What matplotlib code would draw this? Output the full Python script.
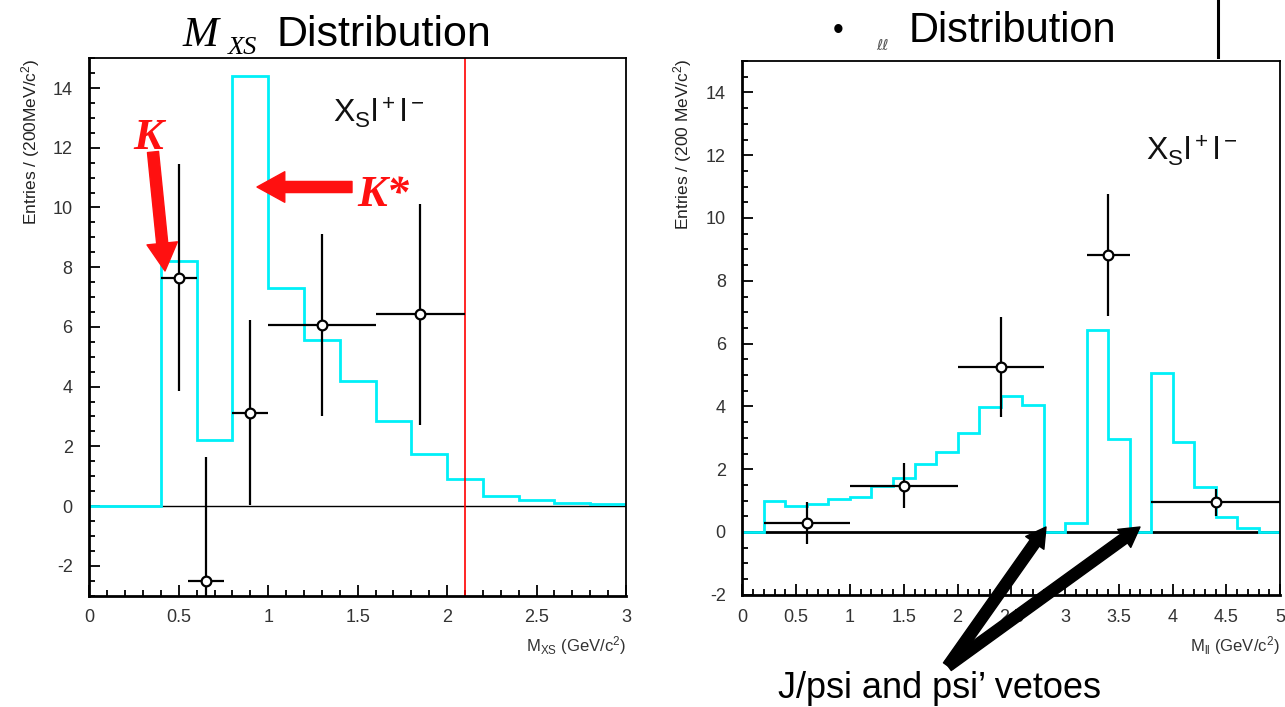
import matplotlib
matplotlib.use("Agg")
import matplotlib.pyplot as plt
from matplotlib.ticker import MultipleLocator, FuncFormatter
from matplotlib.patches import FancyArrowPatch

plt.rcParams["font.family"] = ["Liberation Sans", "DejaVu Sans"]
plt.rcParams["mathtext.fontset"] = "custom"
plt.rcParams["mathtext.rm"] = "Liberation Sans"
plt.rcParams["mathtext.it"] = "Liberation Sans:italic"
plt.rcParams["axes.unicode_minus"] = False

# ---- M_Xs distribution ----
mxs_edges = [0.0, 0.2, 0.4, 0.6, 0.8, 1.0, 1.2, 1.4, 1.6, 1.8, 2.0, 2.2, 2.4, 2.6, 2.8, 3.0]
mxs_mc = [0.0, 0.0, 8.2, 2.2, 14.4, 7.3, 5.55, 4.2, 2.86, 1.74, 0.89, 0.34, 0.19, 0.10, 0.06]
mxs_x = [0.5, 0.65, 0.9, 1.3, 1.85]
mxs_xerr = [0.1, 0.1, 0.1, 0.3, 0.25]
mxs_y = [7.65, -2.5, 3.13, 6.07, 6.42]
mxs_yerr = [3.8, 4.15, 3.1, 3.05, 3.7]
mxs_cut = 2.1

# ---- M_ll distribution ----
mll_edges = [0.0, 0.2, 0.4, 0.6, 0.8, 1.0, 1.2, 1.4, 1.6, 1.8, 2.0, 2.2, 2.4, 2.6,
             2.8, 3.0, 3.2, 3.4, 3.6, 3.8, 4.0, 4.2, 4.4, 4.6, 4.8, 5.0]
mll_mc = [0.0, 1.0, 0.83, 0.88, 1.05, 1.12, 1.47, 1.72, 2.17, 2.56, 3.16, 3.99, 4.33,
          4.04, 0.0, 0.3, 6.43, 2.95, 0.0, 5.07, 2.88, 1.44, 0.49, 0.14, 0.0]
mll_x = [0.6, 1.5, 2.4, 3.4, 4.4]
mll_xerr = [0.4, 0.5, 0.4, 0.2, 0.6]
mll_y = [0.28, 1.47, 5.25, 8.82, 0.95]
mll_yerr = [0.67, 0.72, 1.6, 1.95, 0.43]

W, H = 1285, 707
fig = plt.figure(figsize=(W / 100, H / 100), dpi=100)
fig.patch.set_facecolor("white")


def fx(x):
    return x / W


def fy(y):
    return 1 - y / H


def px(x, y):
    return (x, H - y)


fmt = FuncFormatter(lambda v, p: f"{v:g}")
CYAN = "#00f0f8"


def style_axes(ax, xmax, ymin, zero_lw):
    ax.set_xlim(0, xmax)
    ax.set_ylim(ymin, 15)
    ax.xaxis.set_major_locator(MultipleLocator(0.5))
    ax.xaxis.set_minor_locator(MultipleLocator(0.1))
    ax.yaxis.set_major_locator(MultipleLocator(2))
    ax.yaxis.set_minor_locator(MultipleLocator(0.5))
    ax.xaxis.set_major_formatter(fmt)
    ax.yaxis.set_major_formatter(fmt)
    ax.tick_params(which="both", direction="in", top=False, right=False,
                   labelsize=13, labelcolor="#333333", width=1.3)
    ax.tick_params(which="major", length=8)
    ax.tick_params(which="minor", length=4)
    ax.tick_params(axis="x", pad=10)
    ax.tick_params(axis="y", pad=12)
    for s in ("left", "bottom"):
        ax.spines[s].set_linewidth(2)
    for s in ("top", "right"):
        ax.spines[s].set_linewidth(1.3)
    ax.axhline(0, color="black", lw=zero_lw, zorder=1)


# Left panel
ax1 = fig.add_axes([fx(89.4), fy(595.6), fx(626 - 89.4), (595.6 - 58.2) / H])
ax1.stairs(mxs_mc, mxs_edges, color=CYAN, lw=2, baseline=0, zorder=2)
ax1.axvline(mxs_cut, color="red", lw=1.2, zorder=2)
ax1.errorbar(mxs_x, mxs_y, xerr=mxs_xerr, yerr=mxs_yerr, fmt="o", ms=7,
             mfc="white", mec="black", mew=1.6, ecolor="black", elinewidth=1.6,
             capsize=0, zorder=4)
style_axes(ax1, 3, -3, 1.0)

# Right panel
ax2 = fig.add_axes([fx(742.5), fy(594.8), fx(1280 - 742.5), (594.8 - 61) / H])
ax2.stairs(mll_mc, mll_edges, color=CYAN, lw=2, baseline=0, zorder=2)
ax2.errorbar(mll_x, mll_y, xerr=mll_xerr, yerr=mll_yerr, fmt="o", ms=7,
             mfc="white", mec="black", mew=1.6, ecolor="black", elinewidth=1.6,
             capsize=0, zorder=4)
style_axes(ax2, 5, -2, 2.0)

# Axis titles
fig.text(fx(626), fy(646), r"$\mathregular{M_{XS}}$ (GeV/$\mathregular{c^2}$)",
         ha="right", va="center", fontsize=12, color="#333333")
fig.text(fx(1280), fy(646), r"$\mathregular{M_{ll}}$ (GeV/$\mathregular{c^2}$)",
         ha="right", va="center", fontsize=12, color="#333333")
fig.text(fx(31), fy(58), r"Entries / (200MeV/$\mathregular{c^2}$)", rotation=90,
         ha="center", va="top", fontsize=12.5, color="#222222")
fig.text(fx(683), fy(58), r"Entries / (200 MeV/$\mathregular{c^2}$)", rotation=90,
         ha="center", va="top", fontsize=12.5, color="#222222")

# Channel labels inside the frames
channel = r"$\mathregular{X_S l^+ l^-}$"
fig.text(fx(333), fy(123), channel, ha="left", va="baseline", fontsize=23,
         color="#111111")
fig.text(fx(1146), fy(160), channel, ha="left", va="baseline", fontsize=23,
         color="#111111")

# Titles
fig.text(fx(182), fy(46), "M", family="Liberation Serif", style="italic",
         fontsize=31, ha="left", va="baseline")
fig.text(fx(228), fy(54), "XS", family="Liberation Serif", style="italic",
         fontsize=19, ha="left", va="baseline")
fig.text(fx(277), fy(46), "Distribution", fontsize=31, ha="left", va="baseline")

fig.text(fx(838), fy(31), "\u2022", fontsize=22, ha="center", va="center")
fig.text(fx(876), fy(50), "\u2113\u2113", family=["DejaVu Sans", "Noto Sans"],
         style="italic", fontsize=11, ha="left", va="baseline", color="#555555")
fig.text(fx(909), fy(42), "Distribution", fontsize=30, ha="left", va="baseline")

fig.add_artist(plt.Line2D([fx(1218), fx(1218)], [fy(0), fy(57)],
                          color="black", lw=2.2, transform=fig.transFigure))

# K and K* markers
RED = "#ff1010"
fig.text(fx(133), fy(149), "K", family="Liberation Serif", style="italic",
         weight="bold", fontsize=32, color=RED, ha="left", va="baseline")
fig.text(fx(357), fy(206), "K*", family="Liberation Serif", style="italic",
         weight="bold", fontsize=32, color=RED, ha="left", va="baseline")


def arrow(tail, tip, color, tw, hw, hl):
    a = FancyArrowPatch(px(*tail), px(*tip), transform=None,
                        arrowstyle=f"simple,tail_width={tw},head_width={hw},head_length={hl}",
                        color=color, mutation_scale=1, shrinkA=0, shrinkB=0)
    fig.add_artist(a)


arrow((153, 152), (165, 271), RED, 8, 22, 20)
arrow((352, 187), (257, 187), RED, 8, 22, 20)

# Veto pointers
arrow((948, 666), (1046, 527), "black", 8, 16, 14)
arrow((948, 666), (1140, 527), "black", 8, 16, 14)
fig.text(fx(778), fy(698), "J/psi and psi\u2019 vetoes", fontsize=26,
         ha="left", va="baseline")

fig.savefig("out.png", dpi=100)
